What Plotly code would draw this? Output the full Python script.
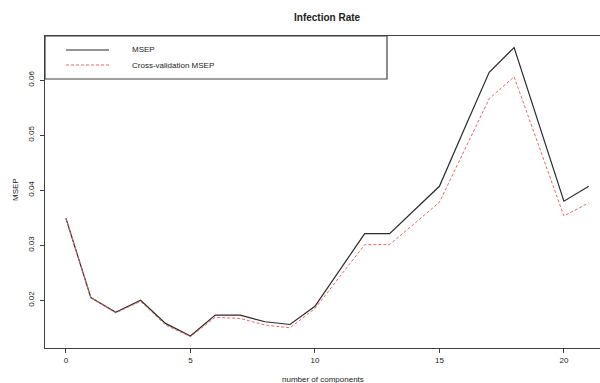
import plotly.graph_objects as go

components = list(range(22))
msep = [0.0349, 0.0205, 0.0178, 0.0200, 0.0158, 0.0135, 0.0173, 0.0173, 0.0161, 0.0156,
        0.0189, 0.0255, 0.0321, 0.0321, 0.0364, 0.0407, 0.0511, 0.0614, 0.0659, 0.0519,
        0.0380, 0.0407]
cv_msep = [0.0349, 0.0205, 0.0177, 0.0198, 0.0155, 0.0134, 0.0169, 0.0167, 0.0155, 0.0150,
           0.0185, 0.0243, 0.0301, 0.0301, 0.0339, 0.0378, 0.0472, 0.0566, 0.0606, 0.0479,
           0.0353, 0.0377]
x_ticks = [0, 5, 10, 15, 20]
y_ticks = [0.02, 0.03, 0.04, 0.05, 0.06]
y_tick_text = ["0.02", "0.03", "0.04", "0.05", "0.06"]

FONT = "Liberation Sans, Arial, sans-serif"
AX = "#404040"
BLACK = "#2a2a2a"
RED = "#f46464"

fig = go.Figure()
fig.add_trace(go.Scatter(x=components, y=msep, mode="lines", name="MSEP",
                         line=dict(color=BLACK, width=1.2), showlegend=False))
fig.add_trace(go.Scatter(x=components, y=cv_msep, mode="lines", name="Cross-validation MSEP",
                         line=dict(color=RED, width=1, dash="3px,2px"), showlegend=False))

T, B = 36, 35
H = 383 - T - B

def py(p):
    return (383 - B - p) / H

def px(p):
    return (p - 45) / 555

shapes = [
    dict(type="rect", xref="paper", yref="paper", x0=0, x1=px(387), y0=py(79), y1=1,
         line=dict(color=AX, width=1.2), fillcolor="rgba(0,0,0,0)"),
    dict(type="line", xref="paper", yref="paper", x0=px(66), x1=px(109), y0=py(50), y1=py(50),
         line=dict(color=BLACK, width=1.2)),
    dict(type="line", xref="paper", yref="paper", x0=px(66), x1=px(109), y0=py(65), y1=py(65),
         line=dict(color=RED, width=1, dash="3px,2px")),
]

annotations = [
    dict(text="MSEP", xref="paper", yref="paper", x=px(130), y=py(50), xanchor="left",
         yanchor="middle", showarrow=False, font=dict(family=FONT, size=8, color="#222")),
    dict(text="Cross-validation MSEP", xref="paper", yref="paper", x=px(130), y=py(65),
         xanchor="left", yanchor="middle", showarrow=False,
         font=dict(family=FONT, size=8, color="#222")),
    dict(text="<b>Infection Rate</b>", xref="paper", yref="paper", x=px(327), y=py(18),
         xanchor="center", yanchor="middle", showarrow=False,
         font=dict(family=FONT, size=10, color="#222")),
    dict(text="number of components", xref="paper", yref="paper", x=px(323), y=py(379),
         xanchor="center", yanchor="middle", showarrow=False,
         font=dict(family=FONT, size=8, color="#222")),
    dict(text="MSEP", xref="paper", yref="paper", x=px(15), y=py(190), textangle=-90,
         xanchor="center", yanchor="middle", showarrow=False,
         font=dict(family=FONT, size=8, color="#222")),
]

fig.update_layout(
    width=600, height=383,
    margin=dict(l=45, r=0, t=T, b=B),
    paper_bgcolor="white", plot_bgcolor="white",
    font=dict(family=FONT, size=8, color="#222"),
    shapes=shapes, annotations=annotations,
    xaxis=dict(range=[-0.84, 21.45], tickvals=x_ticks, showgrid=False, zeroline=False,
               showline=True, mirror=True, linecolor=AX, linewidth=1.2,
               ticks="outside", ticklen=4, tickcolor=AX, tickfont=dict(size=8)),
    yaxis=dict(range=[0.01133, 0.068], tickvals=y_ticks, ticktext=y_tick_text,
               showgrid=False, zeroline=False, showline=True, mirror=False,
               linecolor=AX, linewidth=1.2, tickangle=-90, ticklabelstandoff=3,
               ticks="outside", ticklen=4, tickcolor=AX, tickfont=dict(size=8)),
)

fig.write_html("out.html")
